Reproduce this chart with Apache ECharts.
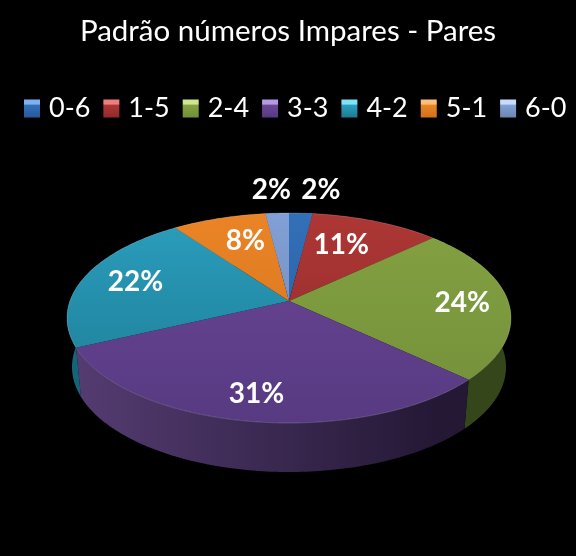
<!DOCTYPE html>
<html><head><meta charset="utf-8">
<style>html,body{margin:0;padding:0;background:#000}#c{width:576px;height:556px}</style>
<script src="https://cdn.jsdelivr.net/npm/echarts@6/dist/echarts.min.js"></script>
</head><body><div id="c"></div>
<script>
const titleText = 'Padrão números Impares - Pares';
const categories = ['0-6','1-5','2-4','3-3','4-2','5-1','6-0'];
const values = [2,11,24,31,22,8,2];

const topLight = ['#3270b8','#ad3735','#84a241','#6c4696','#2a9ebd','#ea8426','#82a0d6'];
const topDark  = ['#28599a','#8f2a2a','#728f3a','#573a82','#1d7a93','#d2711c','#6c84b0'];
const wallLeft = ['#1b3a60','#5c1f1f','#47602a','#553c72','#166479','#8a4a12','#465a7c'];
const wallRight= ['#14304f','#4a1818','#35471a','#241835','#104f60','#6e3a0e','#384a66'];
const legendTop= ['#7fb2f0','#ee7f7d','#cfe88f','#b59be0','#7fe3f8','#ffc07a','#c8dcff'];
const labelOffsets = [[22,-39],[-19,9],[-2,2],[-1,0],[11,1],[14,8],[-8,-39]];

const total = values.reduce((a,b)=>a+b,0);
const CX=289, TOPY=318, BOTY=367, RX=222, BRX=217, RY=105, A=0.162, STEP=Math.PI/180;

function project(x,y,cy,rx){
  const d=1+A*y;
  return [CX+rx*x*Math.sqrt(1-A*A)/d, cy-RY*(y+A)/d];
}
const rim=(t,cy,rx,f=1)=>project(f*Math.sin(t),f*Math.cos(t),cy,rx);
function range(i){
  let s=0; for(let k=0;k<i;k++) s+=values[k];
  return [s/total*2*Math.PI,(s+values[i])/total*2*Math.PI];
}
function arc(t0,t1,cy,rx){
  const n=Math.max(2,Math.ceil((t1-t0)/STEP)), p=[];
  for(let j=0;j<=n;j++) p.push(rim(t0+(t1-t0)*j/n,cy,rx));
  return p;
}
const grad=(x,y,x2,y2,c0,c1)=>({type:'linear',global:true,x,y,x2,y2,colorStops:[{offset:0,color:c0},{offset:1,color:c1}]});

const wallSeries = categories.map((name,i)=>({
  name,type:'custom',coordinateSystem:'none',z:1,silent:true,data:[values[i]],
  renderItem(){
    const [t0,t1]=range(i);
    const pts=arc(t0,t1,TOPY,RX).concat(arc(t0,t1,BOTY,BRX).reverse());
    return {type:'polygon',shape:{points:pts},style:{fill:grad(70,0,440,0,wallLeft[i],wallRight[i])}};
  }
}));
const topSeries = categories.map((name,i)=>({
  name,type:'custom',coordinateSystem:'none',z:2,silent:true,data:[values[i]],
  renderItem(params,api){
    const [t0,t1]=range(i), v=api.value(0);
    const edge=arc(t0,t1,TOPY,RX);
    const mid=(t0+t1)/2, c=rim(mid,TOPY,RX,0.8), off=labelOffsets[i];
    return {type:'group',children:[
      {type:'polygon',shape:{points:[rim(0,TOPY,RX,0)].concat(edge)},
       style:{fill:grad(0,213,0,423,topLight[i],topDark[i])}},
      {type:'polyline',shape:{points:edge},
       style:{fill:null,stroke:'rgba(255,255,255,0.18)',lineWidth:1}},
      {type:'text',x:c[0]+off[0],y:c[1]+off[1],z2:10,
       style:{text:v+'%',fill:'#fff',font:'bold 28px Lato',align:'center',verticalAlign:'middle'}}
    ]};
  }
}));

const chart = echarts.init(document.getElementById('c'),null,{renderer:'canvas'});
chart.setOption({
  backgroundColor:'#000',animation:false,
  title:{text:titleText,left:'center',top:11,textStyle:{color:'#fff',fontFamily:'Lato',fontSize:29.5,fontWeight:'normal'}},
  legend:{
    left:24,top:95,width:552,padding:0,itemWidth:16,itemHeight:18,itemGap:13,selectedMode:false,icon:'rect',
    textStyle:{color:'#fff',fontFamily:'Lato',fontSize:27,padding:[0,0,0,4]},
    data:categories.map((name,i)=>({name,icon:'rect',itemStyle:{borderWidth:0,color:{type:'linear',x:0,y:0,x2:0,y2:1,colorStops:[
      {offset:0,color:legendTop[i]},{offset:0.25,color:legendTop[i]},{offset:0.32,color:topLight[i]},{offset:1,color:topDark[i]}]}}}))
  },
  series:wallSeries.concat(topSeries)
});
</script></body></html>
